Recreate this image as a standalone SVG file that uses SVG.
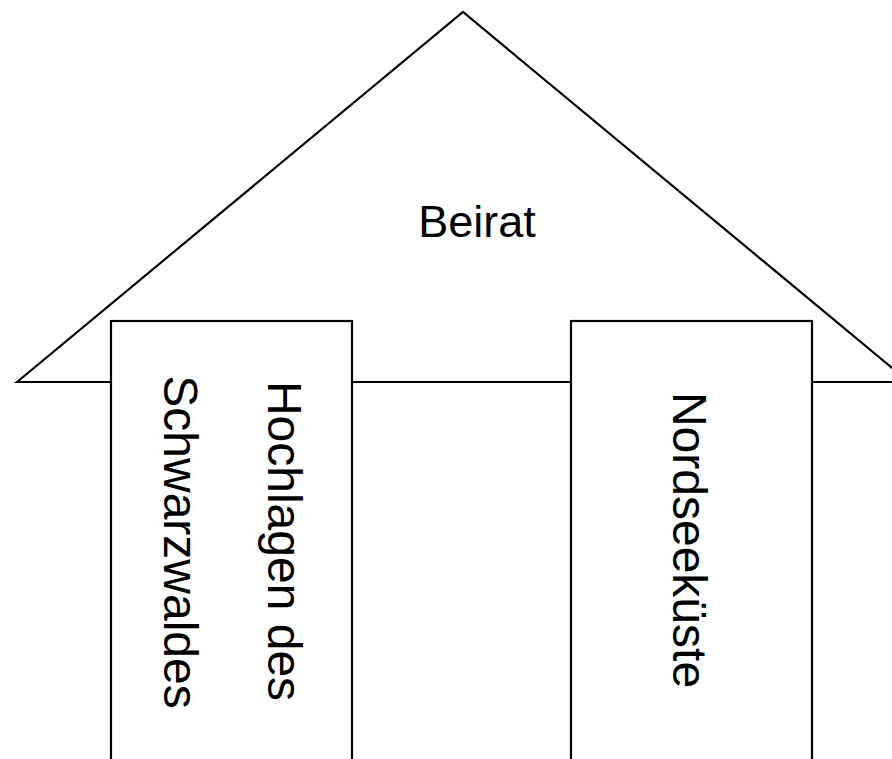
<svg xmlns="http://www.w3.org/2000/svg" width="892" height="759" viewBox="0 0 892 759">
  <style>
    .shape { fill: #ffffff; stroke: #000000; stroke-width: 2.2; }
    .label { font-family: "Liberation Sans", Arial, sans-serif; fill: #000000; }
    .roof-label { font-size: 45px; }
    .pillar-label { font-size: 48px; }
  </style>
  <rect width="892" height="759" fill="#ffffff"/>
  <!-- roof -->
  <g id="roof">
    <polygon class="shape" points="17,382 463,12 909,382"/>
    <text class="label roof-label" x="477" y="237" text-anchor="middle">Beirat</text>
  </g>
  <!-- left pillar -->
  <g id="pillar-left">
    <rect class="shape" x="111" y="321" width="241" height="460"/>
    <text class="label pillar-label" text-anchor="middle" transform="translate(268,541) rotate(90)">Hochlagen des</text>
    <text class="label pillar-label" text-anchor="middle" transform="translate(164,542) rotate(90)">Schwarzwaldes</text>
  </g>
  <!-- right pillar -->
  <g id="pillar-right">
    <rect class="shape" x="571" y="321" width="241" height="460"/>
    <text class="label pillar-label" text-anchor="middle" transform="translate(673,540) rotate(90)">Nordseeküste</text>
  </g>
  <g id="connectors"/>
</svg>
